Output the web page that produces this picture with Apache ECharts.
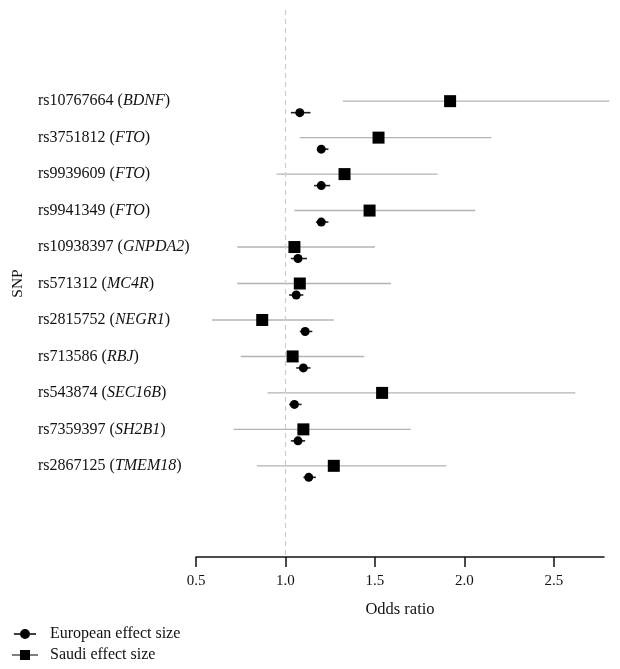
<!DOCTYPE html>
<html>
<head>
<meta charset="utf-8">
<script src="https://cdn.jsdelivr.net/npm/echarts@6/dist/echarts.min.js"></script>
<style>
html,body{margin:0;padding:0;background:#fff;}
#chart{width:620px;height:669px;}
</style>
</head>
<body>
<div id="chart"></div>
<script>
// ---- data ----
const snps = ['rs10767664','rs3751812','rs9939609','rs9941349','rs10938397','rs571312','rs2815752','rs713586','rs543874','rs7359397','rs2867125'];
const genes = ['BDNF','FTO','FTO','FTO','GNPDA2','MC4R','NEGR1','RBJ','SEC16B','SH2B1','TMEM18'];
// Saudi effect size (odds ratio) with 95% CI
const saudiOR    = [1.92, 1.52, 1.33, 1.47, 1.05, 1.08, 0.87, 1.04, 1.54, 1.10, 1.27];
const saudiLow   = [1.32, 1.08, 0.95, 1.05, 0.73, 0.73, 0.59, 0.75, 0.90, 0.71, 0.84];
const saudiHigh  = [2.81, 2.15, 1.85, 2.06, 1.50, 1.59, 1.27, 1.44, 2.62, 1.70, 1.90];
// European effect size (odds ratio) with 95% CI
const euroOR     = [1.08, 1.20, 1.20, 1.20, 1.07, 1.06, 1.11, 1.10, 1.05, 1.07, 1.13];
const euroLow    = [1.03, 1.18, 1.16, 1.17, 1.03, 1.02, 1.08, 1.06, 1.02, 1.03, 1.10];
const euroHigh   = [1.14, 1.24, 1.25, 1.24, 1.12, 1.10, 1.15, 1.14, 1.09, 1.11, 1.17];
const xTicks = [0.5, 1.0, 1.5, 2.0, 2.5];
const padTop = 2, padBottom = 2;

// ---- build ----
const cats = [];
for (let i = 0; i < padTop; i++) cats.push('');
snps.forEach((s, i) => cats.push(s + ' (' + genes[i] + ')'));
for (let i = 0; i < padBottom; i++) cats.push('');
const rowIdx = snps.map((s, i) => i + padTop);

const EURO_OFF = 11.5;
const FONT = '"Liberation Serif", "DejaVu Serif", serif';

function ciRender(offset, color, width) {
  return function (params, api) {
    const lo = api.coord([api.value(0), api.value(2)]);
    const hi = api.coord([api.value(1), api.value(2)]);
    return {
      type: 'line',
      shape: { x1: lo[0], y1: lo[1] + offset, x2: hi[0], y2: hi[1] + offset },
      style: { stroke: color, lineWidth: width },
      silent: true
    };
  };
}

const chart = echarts.init(document.getElementById('chart'), null, { renderer: 'canvas' });
chart.setOption({
  animation: false,
  backgroundColor: '#fff',
  textStyle: { fontFamily: FONT },
  grid: { left: 196, right: 16, top: 10, bottom: 112, containLabel: false },
  xAxis: {
    type: 'value',
    min: 0.5, max: 2.78,
    name: 'Odds ratio',
    nameLocation: 'middle',
    nameGap: 44,
    nameTextStyle: { fontFamily: FONT, fontSize: 16.5, color: '#111' },
    axisLine: { show: true, onZero: false, lineStyle: { color: '#111', width: 1.5 } },
    axisTick: { show: true, customValues: xTicks, length: 10, inside: false, lineStyle: { color: '#111', width: 1.5 } },
    axisLabel: { customValues: xTicks, fontFamily: FONT, fontSize: 15, color: '#111', margin: 17,
      formatter: v => Number(v).toFixed(1) },
    splitLine: { show: false }
  },
  yAxis: {
    type: 'category',
    data: cats,
    inverse: true,
    name: 'SNP',
    nameLocation: 'middle',
    nameGap: 170,
    nameRotate: 90,
    nameTextStyle: { fontFamily: FONT, fontSize: 15.5, color: '#111' },
    axisLine: { show: false },
    axisTick: { show: false },
    splitLine: { show: false },
    axisLabel: {
      interval: 0,
      align: 'left',
      margin: 158,
      color: '#111',
      fontFamily: FONT,
      fontSize: 16,
      formatter: function (v) {
        if (!v) return '';
        const m = v.match(/^(\S+) \((.+)\)$/);
        return '{n|' + m[1] + ' (}{g|' + m[2] + '}{n|)}';
      },
      rich: {
        n: { fontFamily: FONT, fontSize: 16, color: '#111' },
        g: { fontFamily: FONT, fontSize: 16, fontStyle: 'italic', color: '#111' }
      }
    }
  },
  legend: {
    orient: 'vertical',
    left: 12,
    top: 626,
    height: 50,
    padding: 0,
    itemGap: 5,
    itemWidth: 26,
    itemHeight: 10,
    selectedMode: false,
    textStyle: { fontFamily: FONT, fontSize: 16, color: '#111', padding: [0, 0, 0, 7] },
    data: [
      { name: 'European effect size',
        icon: 'path://M3,4.4H8.5V5.6H3Z M17.5,4.4H23V5.6H17.5Z M8.5,5A4.5,4.5 0 1,1 17.5,5A4.5,4.5 0 1,1 8.5,5Z' },
      { name: 'Saudi effect size',
        icon: 'path://M0,4.5H8V5.5H0Z M18,4.5H26V5.5H18Z M8,0H18V10H8Z' }
    ]
  },
  series: [
    {
      name: 'Saudi CI',
      type: 'custom',
      clip: false,
      renderItem: ciRender(0, '#b3b3b3', 1.4),
      encode: { x: [0, 1], y: 2 },
      data: snps.map((s, i) => [saudiLow[i], saudiHigh[i], rowIdx[i]]),
      z: 1
    },
    {
      name: 'European CI',
      type: 'custom',
      clip: false,
      renderItem: ciRender(EURO_OFF, '#222', 1.6),
      encode: { x: [0, 1], y: 2 },
      data: snps.map((s, i) => [euroLow[i], euroHigh[i], rowIdx[i]]),
      z: 1
    },
    {
      name: 'Saudi effect size',
      type: 'scatter',
      symbol: 'rect',
      symbolSize: 12,
      itemStyle: { color: '#000', opacity: 1 },
      data: snps.map((s, i) => [saudiOR[i], rowIdx[i]]),
      z: 3
    },
    {
      name: 'European effect size',
      type: 'scatter',
      symbol: 'circle',
      symbolSize: 9,
      symbolOffset: [0, EURO_OFF],
      itemStyle: { color: '#000', opacity: 1 },
      data: snps.map((s, i) => [euroOR[i], rowIdx[i]]),
      z: 3,
      markLine: {
        silent: true,
        symbol: 'none',
        label: { show: false },
        lineStyle: { color: '#cfcfcf', type: [5, 4], width: 1.3 },
        data: [{ xAxis: 1.0 }]
      }
    }
  ]
});
</script>
</body>
</html>
